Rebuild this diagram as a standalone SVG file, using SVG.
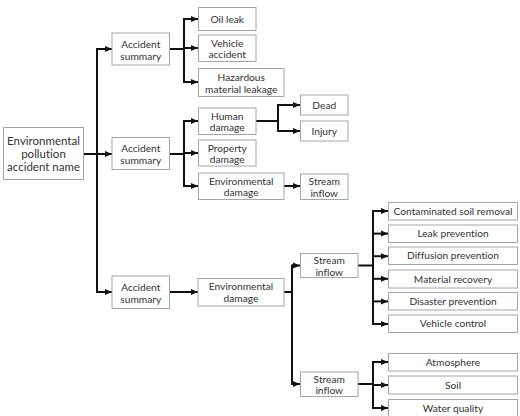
<svg xmlns="http://www.w3.org/2000/svg" width="520" height="416" viewBox="0 0 520 416">
<defs>
<style>
.b{fill:#fff;stroke:#a6a6a6;stroke-width:1}
.t{font-family:Lato,"Noto Sans",sans-serif;font-size:10.2px;fill:#333;text-anchor:middle;font-variant-ligatures:none}
.r{font-size:11.5px}
.c{fill:none;stroke:#111;stroke-width:2}
</style>
<marker id="a" markerUnits="userSpaceOnUse" markerWidth="8" markerHeight="8" refX="7" refY="4" orient="auto">
<path d="M0,1 L7,4 L0,7 Z" fill="#111"/>
</marker>
</defs>
<rect width="520" height="416" fill="#fff"/>
<g id="connectors">
<path class="c" d="M84,154 H97 M97,48 V293 M170,49 H184 M184,18 V83 M170,154 H184 M184,120 V187 M256,121 H278 M278,104 V132 M284,292 H292 M292,264.5 V385 M358,265.5 H373 M373,210 V325 M358,384 H373 M373,361 V409"/>
<g class="c" marker-end="url(#a)">
<path d="M97,49 H112"/><path d="M97,154 H112"/><path d="M97,292 H112"/>
<path d="M184,19 H198"/><path d="M184,48 H198"/><path d="M184,82 H198"/>
<path d="M184,121 H198"/><path d="M184,153 H198"/><path d="M184,186 H198"/>
<path d="M278,105 H300"/><path d="M278,131 H300"/>
<path d="M284,186 H300"/>
<path d="M170,292 H198"/>
<path d="M292,265.5 H300"/><path d="M292,384 H300"/>
<path d="M373,211 H388"/><path d="M373,233.6 H388"/><path d="M373,256.2 H388"/><path d="M373,278.8 H388"/><path d="M373,301.4 H388"/><path d="M373,324 H388"/>
<path d="M373,362 H388"/><path d="M373,385 H388"/><path d="M373,408 H388"/>
</g>
</g>
<g id="root"><rect class="b" x="3.5" y="127.5" width="80" height="52"/><text class="t r" x="43.5" y="145">Environmental</text><text class="t r" x="43.5" y="158">pollution</text><text class="t r" x="43.5" y="171">accident name</text></g>
<g id="summary1"><rect class="b" x="112" y="33" width="57.5" height="32"/><text class="t" x="140.75" y="47.5">Accident</text><text class="t" x="140.75" y="59.5">summary</text></g>
<g id="summary2"><rect class="b" x="112" y="137.5" width="57.5" height="32"/><text class="t" x="140.75" y="152">Accident</text><text class="t" x="140.75" y="164">summary</text></g>
<g id="summary3"><rect class="b" x="112" y="276" width="57.5" height="32.5"/><text class="t" x="140.75" y="290.5">Accident</text><text class="t" x="140.75" y="302.5">summary</text></g>
<g id="oil"><rect class="b" x="198.5" y="7.5" width="57.5" height="23"/><text class="t" x="227.25" y="22.5">Oil leak</text></g>
<g id="vehicle"><rect class="b" x="198.5" y="35" width="57.5" height="26.5"/><text class="t" x="227.25" y="46.5">Vehicle</text><text class="t" x="227.25" y="58">accident</text></g>
<g id="hazard"><rect class="b" x="198.5" y="68.5" width="85.5" height="28"/><text class="t" x="241.25" y="80.5">Hazardous</text><text class="t" x="241.25" y="92.5">material leakage</text></g>
<g id="human"><rect class="b" x="198.5" y="108" width="57.5" height="26.5"/><text class="t" x="227.25" y="119.5">Human</text><text class="t" x="227.25" y="131">damage</text></g>
<g id="property"><rect class="b" x="198.5" y="140" width="57.5" height="26"/><text class="t" x="227.25" y="151.5">Property</text><text class="t" x="227.25" y="163">damage</text></g>
<g id="env1"><rect class="b" x="198.5" y="173" width="85.5" height="26.5"/><text class="t" x="241.25" y="184.5">Environmental</text><text class="t" x="241.25" y="196">damage</text></g>
<g id="dead"><rect class="b" x="300.5" y="95" width="47.5" height="20"/><text class="t" x="324.25" y="108.5">Dead</text></g>
<g id="injury"><rect class="b" x="300.5" y="121" width="47.5" height="20"/><text class="t" x="324.25" y="134.5">Injury</text></g>
<g id="stream1"><rect class="b" x="300.5" y="174" width="47.5" height="25.5"/><text class="t" x="324.25" y="185">Stream</text><text class="t" x="324.25" y="196.5">inflow</text></g>
<g id="env2"><rect class="b" x="198" y="278.5" width="86" height="27.5"/><text class="t" x="241" y="290">Environmental</text><text class="t" x="241" y="302">damage</text></g>
<g id="stream2"><rect class="b" x="300.5" y="253.5" width="57.5" height="24"/><text class="t" x="329.25" y="264">Stream</text><text class="t" x="329.25" y="275.5">inflow</text></g>
<g id="stream3"><rect class="b" x="300.5" y="372" width="57.5" height="24.5"/><text class="t" x="329.25" y="382.5">Stream</text><text class="t" x="329.25" y="394">inflow</text></g>
<g id="soilremoval"><rect class="b" x="388.5" y="202.5" width="129" height="17.5"/><text class="t" x="453" y="214.8">Contaminated soil removal</text></g>
<g id="leak"><rect class="b" x="388.5" y="225" width="129" height="17.5"/><text class="t" x="453" y="237.3">Leak prevention</text></g>
<g id="diffusion"><rect class="b" x="388.5" y="247" width="129" height="17.5"/><text class="t" x="453" y="259.3">Diffusion prevention</text></g>
<g id="recovery"><rect class="b" x="388.5" y="270" width="129" height="18"/><text class="t" x="453" y="282.5">Material recovery</text></g>
<g id="disaster"><rect class="b" x="388.5" y="292.5" width="129" height="17.5"/><text class="t" x="453" y="304.8">Disaster prevention</text></g>
<g id="vcontrol"><rect class="b" x="388.5" y="315" width="129" height="17.5"/><text class="t" x="453" y="327.3">Vehicle control</text></g>
<g id="atmosphere"><rect class="b" x="388.5" y="353.5" width="129" height="17.5"/><text class="t" x="453" y="365.8">Atmosphere</text></g>
<g id="soil"><rect class="b" x="388.5" y="376" width="129" height="18"/><text class="t" x="453" y="388.5">Soil</text></g>
<g id="water"><rect class="b" x="388.5" y="399.5" width="129" height="18"/><text class="t" x="453" y="412">Water quality</text></g>
</svg>
